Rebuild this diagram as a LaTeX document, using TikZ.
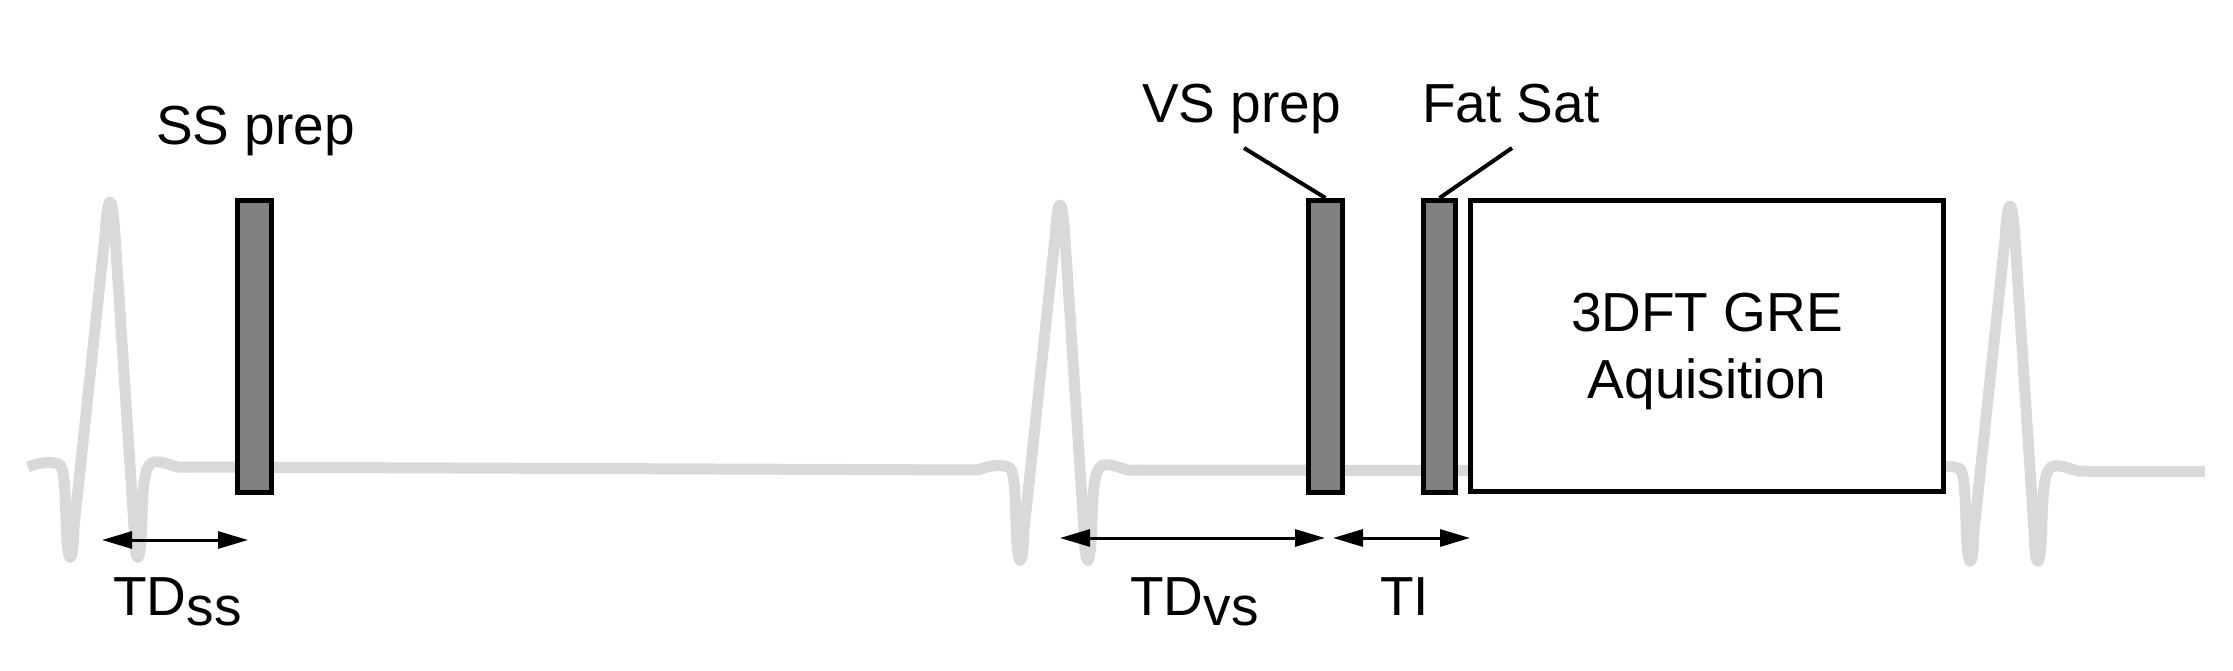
\documentclass[tikz,border=0pt]{standalone}
\usepackage{fontspec}
\setmainfont{Liberation Sans}
\usetikzlibrary{arrows.meta}
\definecolor{ecggray}{RGB}{217,217,217}
\definecolor{pulsegray}{RGB}{128,128,128}
\tikzset{
  ecg/.style={draw=ecggray, line width=11pt, line join=round, line cap=butt},
  pulsebox/.style={draw=black, fill=pulsegray, line width=5pt, inner sep=0pt, minimum width=34pt, minimum height=292pt},
  acqbox/.style={draw=black, fill=white, line width=5pt, inner sep=0pt, minimum width=473pt, minimum height=291pt, align=center, text depth=0pt},
  lbl/.style={inner sep=0pt, anchor=base west},
  leader/.style={draw=black, line width=4pt},
  dim/.style={draw=black, line width=3pt, {Triangle[length=30pt,width=17pt]}-{Triangle[length=30pt,width=17pt]}},
  every node/.style={font=\fontsize{55}{67}\selectfont}
}
\newcommand{\ecgcx}{(-82,0) .. controls (-70,-5) and (-56,-6) .. (-50,-2)
  .. controls (-46,2) and (-45,20) .. (-44,50)
  .. controls (-43,102) and (-37,102) .. (-36,60)
  -- (-5,-232)
  .. controls (-2,-276) and (2,-276) .. (5,-232)
  -- (24,60)
  .. controls (25,102) and (31,102) .. (32,50)
  .. controls (33,10) and (36,-4) .. (44,-5)
  .. controls (52,-6) and (60,-2) .. (68,0)
  -- (80,0)}
\begin{document}
\begin{tikzpicture}[x=1pt, y=-1pt]
\useasboundingbox (0,0) rectangle (2233,671);
% ECG trace
\begin{scope}[shift={(110,467)}]
  \draw[ecg] \ecgcx;
\end{scope}
\begin{scope}[shift={(1060,470)}]
  \draw[ecg] \ecgcx;
\end{scope}
\begin{scope}[shift={(2010,471)}]
  \draw[ecg] \ecgcx;
\end{scope}
\draw[ecggray, line width=11pt] (188,467) -- (980,470);
\draw[ecggray, line width=11pt] (1138,470) -- (1930,471);
\draw[ecggray, line width=11pt] (2088,471) -- (2205,471);

% pulses
\node[pulsebox] (ss) at (254.5,346.5) {};
\node[pulsebox] (vs) at (1325.5,346.5) {};
\node[pulsebox, minimum width=32pt] (fs) at (1439.5,346.5) {};
\node[acqbox] (acq) at (1707,346) {3DFT GRE\\Aquisition};

% labels
\node[lbl] (sslbl) at (156,145) {SS prep};
\node[lbl] (vslbl) at (1142,123) {VS prep};
\node[lbl] (fslbl) at (1422,123) {Fat Sat};

\coordinate (vsend) at (1244,148);
\coordinate (fsend) at (1512,148);
\draw[leader] (vs.north) -- (vsend);
\draw[leader] (fs.north) -- (fsend);

% timing arrows
\coordinate (tdssA) at (102,540);
\coordinate (tdssB) at (248,540);
\coordinate (tdvsA) at (1060,538);
\coordinate (tdvsB) at (1325,538);
\coordinate (tiA) at (1333,538);
\coordinate (tiB) at (1470,538);
\draw[dim] (tdssA) -- (tdssB);
\draw[dim] (tdvsA) -- (tdvsB);
\draw[dim] (tiA) -- (tiB);

\node[lbl] (tdss) at (113,615) {TD\raisebox{-10pt}{ss}};
\node[lbl] (tdvs) at (1130,615) {TD\raisebox{-10pt}{vs}};
\node[lbl] (ti) at (1380,615) {TI};
\end{tikzpicture}
\end{document}
